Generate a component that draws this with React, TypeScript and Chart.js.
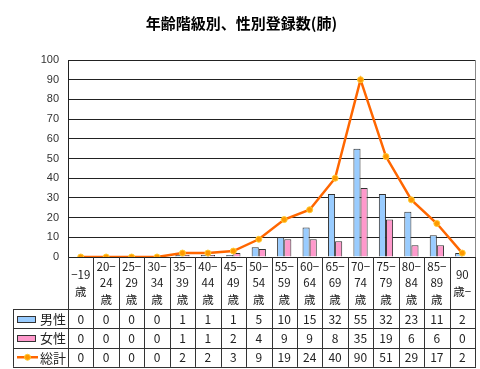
import React, { useEffect, useRef } from "react";
import { Chart, registerables } from "chart.js";

Chart.register(...registerables);

const titleText = "年齢階級別、性別登録数(肺)";
const categoryLines: string[][] = [
  ["−19", "歳"],
  ["20−", "24", "歳"],
  ["25−", "29", "歳"],
  ["30−", "34", "歳"],
  ["35−", "39", "歳"],
  ["40−", "44", "歳"],
  ["45−", "49", "歳"],
  ["50−", "54", "歳"],
  ["55−", "59", "歳"],
  ["60−", "64", "歳"],
  ["65−", "69", "歳"],
  ["70−", "74", "歳"],
  ["75−", "79", "歳"],
  ["80−", "84", "歳"],
  ["85−", "89", "歳"],
  ["90", "歳−"],
];
const categories = categoryLines.map((l) => l.join(""));
const seriesNames = ["男性", "女性", "総計"];
const male = [0, 0, 0, 0, 1, 1, 1, 5, 10, 15, 32, 55, 32, 23, 11, 2];
const female = [0, 0, 0, 0, 1, 1, 2, 4, 9, 9, 8, 35, 19, 6, 6, 0];
const total = [0, 0, 0, 0, 2, 2, 3, 9, 19, 24, 40, 90, 51, 29, 17, 2];
const yMin = 0;
const yMax = 100;
const yStep = 10;

const BLUE = "#99CCFF";
const PINK = "#FF99CC";
const ORANGE = "#FF6600";
const CJK = "'Noto Sans CJK JP', sans-serif";

const tablePlugin = {
  id: "dataTable",
  afterDraw(chart: any) {
    const ctx: CanvasRenderingContext2D = chart.ctx;
    const xs = chart.scales.x;
    const area = chart.chartArea;
    const n = categories.length;
    const colW = (area.right - area.left) / n;
    const top = area.bottom;
    const headerBottom = top + 52;
    const rowH = 19.3;
    const tableLeft = 13;
    const rows = [headerBottom, headerBottom + rowH, headerBottom + 2 * rowH, headerBottom + 3 * rowH];
    const px = (v: number) => Math.round(v) + 0.5;

    ctx.save();
    // plot right border
    ctx.strokeStyle = "#888";
    ctx.lineWidth = 1;
    ctx.beginPath();
    ctx.moveTo(px(area.right), area.top);
    ctx.lineTo(px(area.right), area.bottom);
    ctx.stroke();

    ctx.strokeStyle = "#333";
    ctx.beginPath();
    rows.forEach((y) => {
      ctx.moveTo(tableLeft, px(y));
      ctx.lineTo(area.right + 1, px(y));
    });
    for (let i = 0; i <= n; i++) {
      const x = px(area.left + i * colW);
      ctx.moveTo(x, top);
      ctx.lineTo(x, rows[3]);
    }
    ctx.moveTo(px(tableLeft), rows[0]);
    ctx.lineTo(px(tableLeft), rows[3]);
    ctx.stroke();

    // header labels
    ctx.fillStyle = "#222";
    ctx.textAlign = "center";
    ctx.textBaseline = "middle";
    ctx.font = `11.5px ${CJK}`;
    const hc = (top + headerBottom) / 2;
    categoryLines.forEach((lines, i) => {
      const cx = xs.getPixelForValue(i);
      lines.forEach((t, j) => {
        ctx.fillText(t, cx, hc + (j - (lines.length - 1) / 2) * 16.5);
      });
    });

    // data rows
    const data = [male, female, total];
    ctx.font = `12px ${CJK}`;
    data.forEach((arr, r) => {
      const cy = (rows[r] + rows[r + 1]) / 2 + 0.5;
      arr.forEach((v, i) => {
        ctx.fillText(String(v), xs.getPixelForValue(i), cy);
      });
    });

    // legend keys
    ctx.textAlign = "left";
    ctx.font = `13px ${CJK}`;
    seriesNames.forEach((name, r) => {
      const cy = (rows[r] + rows[r + 1]) / 2;
      if (r < 2) {
        ctx.fillStyle = r === 0 ? BLUE : PINK;
        ctx.fillRect(17.5, Math.round(cy - 3) + 0.5, 18, 6);
        ctx.strokeStyle = "#333";
        ctx.strokeRect(17.5, Math.round(cy - 3) + 0.5, 18, 6);
      } else {
        ctx.strokeStyle = ORANGE;
        ctx.lineWidth = 2.5;
        ctx.beginPath();
        ctx.moveTo(17, cy);
        ctx.lineTo(38, cy);
        ctx.stroke();
        ctx.fillStyle = "#FF9900";
        ctx.strokeStyle = "#FFCC33";
        ctx.lineWidth = 1;
        ctx.beginPath();
        ctx.arc(27.5, cy, 3, 0, Math.PI * 2);
        ctx.fill();
        ctx.stroke();
      }
      ctx.fillStyle = "#222";
      ctx.fillText(name, 40, cy + 0.5);
    });
    ctx.restore();
  },
};

export default function App() {
  const ref = useRef<HTMLCanvasElement | null>(null);
  useEffect(() => {
    if (!ref.current) return;
    const chart = new Chart(ref.current, {
      type: "bar",
      data: {
        labels: categories,
        datasets: [
          {
            type: "line",
            label: seriesNames[2],
            data: total,
            borderColor: ORANGE,
            borderWidth: 2.5,
            pointRadius: 3,
            pointBackgroundColor: "#FF9900",
            pointBorderColor: "#FFCC33",
            pointBorderWidth: 1,
            tension: 0,
            order: -1,
          } as any,
          {
            type: "bar",
            label: seriesNames[0],
            data: male,
            backgroundColor: BLUE,
            borderColor: "#333",
            borderWidth: 1,
            categoryPercentage: 0.56,
            barPercentage: 1,
          },
          {
            type: "bar",
            label: seriesNames[1],
            data: female,
            backgroundColor: PINK,
            borderColor: "#333",
            borderWidth: 1,
            categoryPercentage: 0.56,
            barPercentage: 1,
          },
        ],
      },
      options: {
        animation: false,
        responsive: false,
        maintainAspectRatio: false,
        layout: { padding: { left: 8, right: 5, top: 0, bottom: 112 } },
        plugins: {
          legend: { display: false },
          tooltip: { enabled: false },
          title: {
            display: true,
            text: titleText,
            color: "#000",
            font: { family: CJK, size: 15, weight: "bold" },
            padding: { top: 14, bottom: 28 },
          },
        },
        scales: {
          x: { display: false },
          y: {
            min: yMin,
            max: yMax,
            ticks: {
              stepSize: yStep,
              color: "#333",
              font: { family: "'Liberation Sans', sans-serif", size: 11 },
              padding: 9,
            },
            grid: { color: "#222", drawTicks: false },
            border: { color: "#222" },
            afterFit: (s: any) => {
              s.width = 60;
            },
          },
        },
      },
      plugins: [tablePlugin],
    });
    return () => chart.destroy();
  }, []);
  return (
    <div style={{ position: "fixed", left: 0, top: 0, width: 480, height: 369, background: "#fff" }}>
      <canvas ref={ref} width={480} height={369} style={{ width: 480, height: 369 }} />
    </div>
  );
}
